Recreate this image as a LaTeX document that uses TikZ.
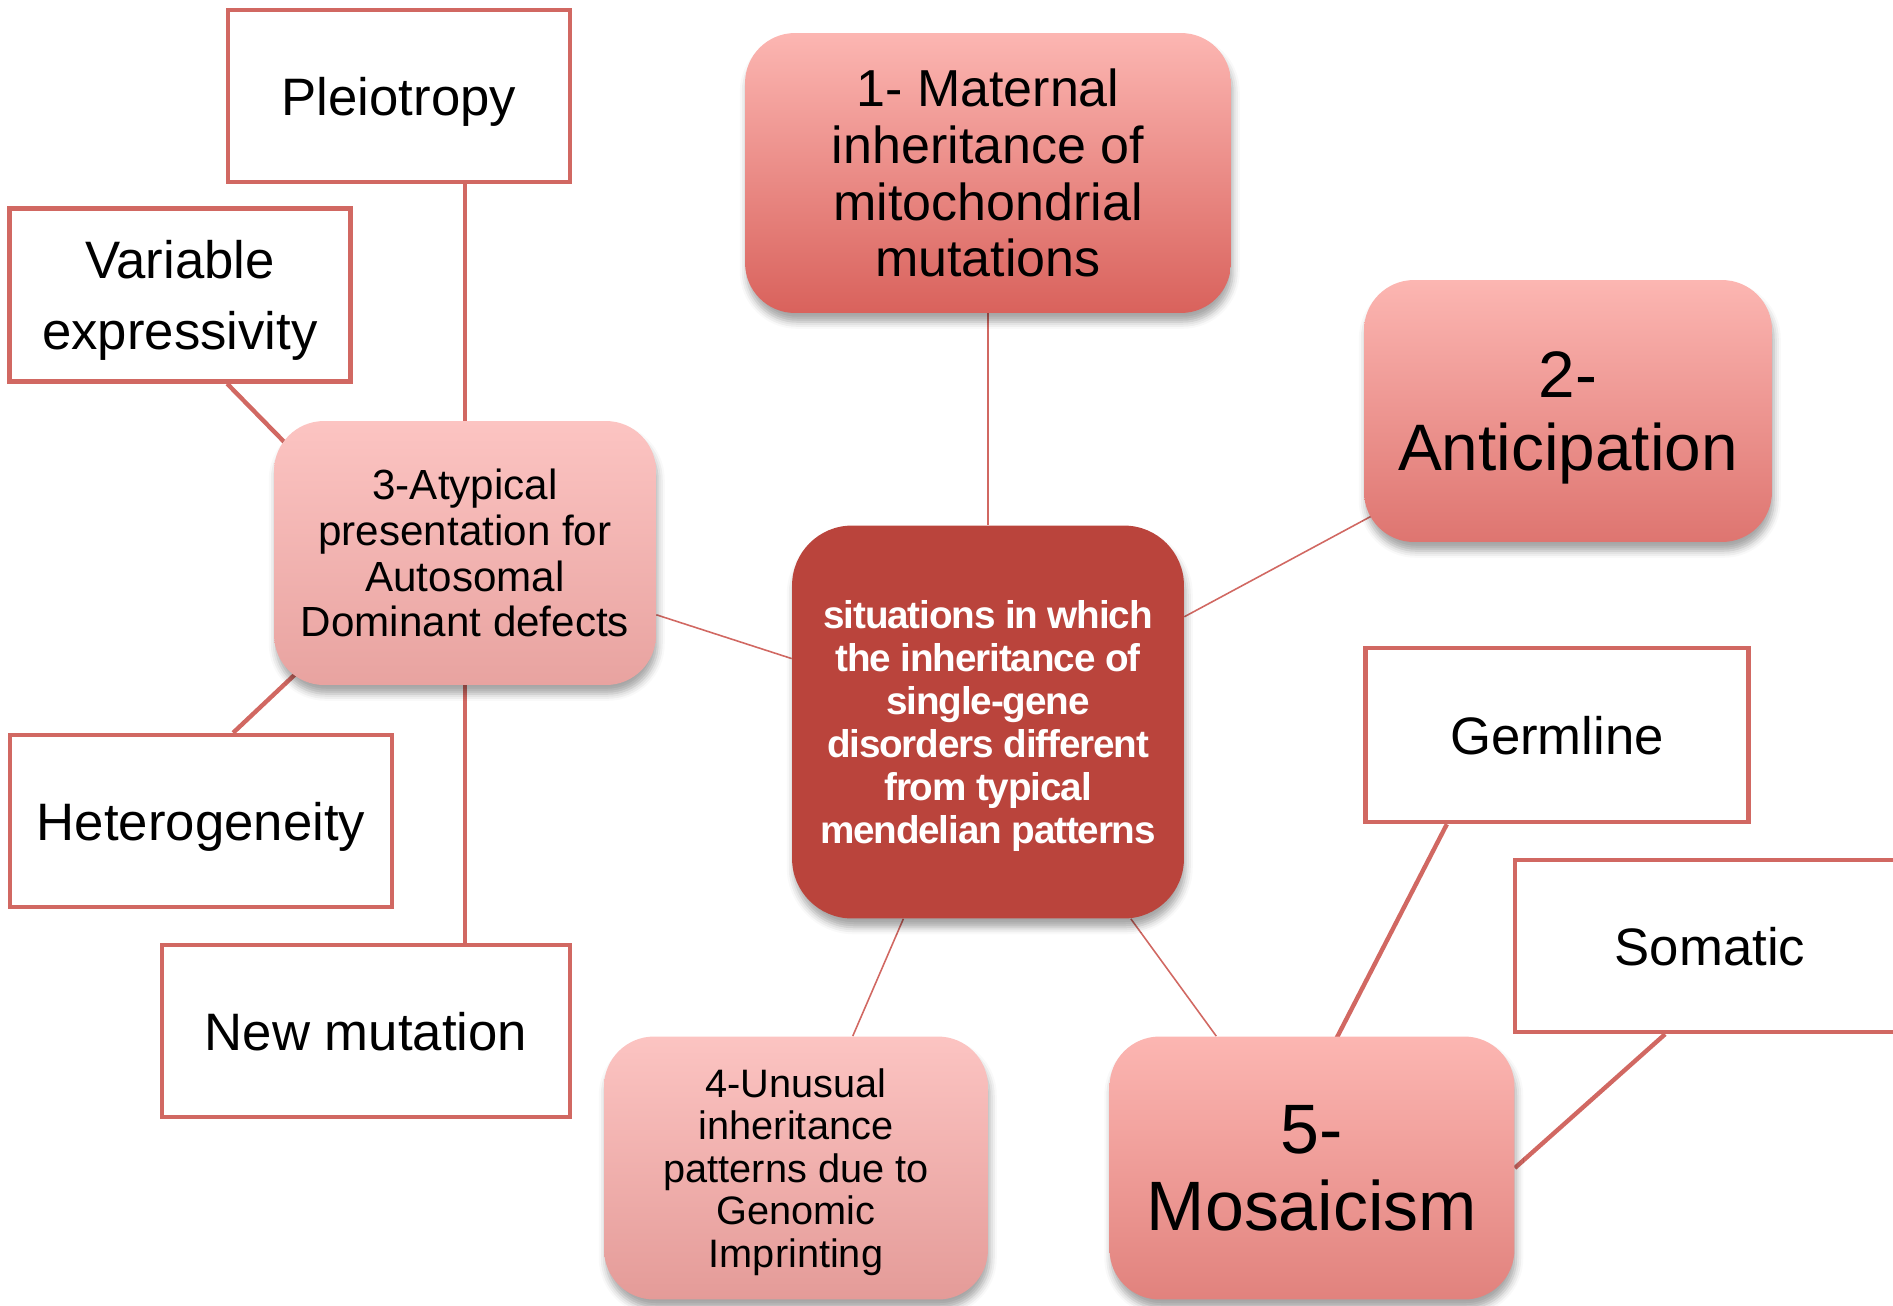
\documentclass[tikz,border=0pt]{standalone}
\usepackage{fontspec}
\setmainfont{Liberation Sans}
\usepackage{xcolor}
\usetikzlibrary{calc, backgrounds, shadows.blur}

\definecolor{edgered}{RGB}{209,104,98}
\definecolor{hubred}{RGB}{186,68,60}
\definecolor{roseA}{RGB}{252,182,178}
\definecolor{roseB}{RGB}{217,98,92}
\definecolor{roseC}{RGB}{222,117,112}
\definecolor{roseD}{RGB}{252,196,194}
\definecolor{roseE}{RGB}{232,163,160}
\definecolor{roseF}{RGB}{228,155,152}
\definecolor{roseG}{RGB}{225,130,125}

\begin{document}
\begin{tikzpicture}[x=0.02cm, y=-0.02cm,
leaf/.style={draw=edgered, line width=2.5pt, fill=white, inner sep=0pt, text depth=0pt, minimum height=3.44cm, align=center, font=\fontsize{30}{40}\selectfont},
topic/.style={rounded corners=1cm, inner sep=0pt, text depth=0pt, align=center, blur shadow={shadow xshift=1pt, shadow yshift=-5pt, shadow opacity=35, shadow blur radius=4pt}},
thinlink/.style={draw=edgered, line width=0.9pt},
thicklink/.style={draw=edgered, line width=2.5pt},
]
\useasboundingbox (0,0) rectangle (1893,1305);
\clip (0,0) rectangle (1893,1305);

\node[topic, fill=hubred, text=white, rounded corners=1.2cm, minimum width=7.84cm, minimum height=7.86cm, font=\bfseries\fontsize{22}{24.5}\selectfont\addfontfeatures{LetterSpace=-3}] (hub) at (988,722) {situations in which\\the inheritance of\\single-gene\\disorders different\\from typical\\mendelian patterns};

\node[topic, top color=roseA, bottom color=roseB, minimum width=9.72cm, minimum height=5.6cm, font=\fontsize{29.6}{32.3}\selectfont] (maternal) at (988,173) {1- Maternal\\inheritance of\\mitochondrial\\mutations};
\node[topic, top color=roseA, bottom color=roseC, minimum width=8.16cm, minimum height=5.24cm, font=\fontsize{37.4}{41.5}\selectfont] (antic) at (1568,411) {2-\\Anticipation};
\node[topic, top color=roseD, bottom color=roseE, minimum width=7.64cm, minimum height=5.28cm, font=\fontsize{24}{26}\selectfont] (atyp) at (465,553) {3-Atypical\\presentation for\\Autosomal\\Dominant defects};
\node[topic, top color=roseD, bottom color=roseF, minimum width=7.68cm, minimum height=5.26cm, font=\fontsize{22.6}{24.2}\selectfont] (unusual) at (796,1168) {4-Unusual\\inheritance\\patterns due to\\Genomic\\Imprinting};
\node[topic, top color=roseA, bottom color=roseG, minimum width=8.1cm, minimum height=5.26cm, font=\fontsize{39.8}{43.8}\selectfont] (mosaic) at (1312,1168) {5-\\Mosaicism};

\node[leaf, minimum width=6.84cm] (pleio) at (399,96) {Pleiotropy};
\node[leaf, minimum width=6.82cm, minimum height=3.46cm] (varexp) at (180,295) {Variable\\expressivity};
\node[leaf, minimum width=7.64cm] (hetero) at (201,821) {Heterogeneity};
\node[leaf, minimum width=8.16cm] (newmut) at (366,1031) {New mutation};
\node[leaf, minimum width=7.66cm, minimum height=3.48cm] (germ) at (1557,735) {Germline};
\node[leaf, minimum width=7.8cm] (somatic) at (1710,946) {Somatic};

\begin{scope}[on background layer]
\draw[thinlink] (maternal) -- (hub);
\draw[thinlink, shorten >=-0.2cm] (hub) -- (antic);
\draw[thinlink] (hub) -- (atyp);
\draw[thinlink] (hub) -- (unusual);
\draw[thinlink] (hub) -- (mosaic);
\draw[thicklink] (atyp.north |- pleio.south) -- (atyp.north);
\draw[thicklink] (varexp.-62) -- ($(atyp.north west)+(24,35)$);
\draw[thicklink] (hetero.70) -- ($(atyp.south west)+(31,-20)$);
\draw[thicklink] (atyp.south) -- (atyp.south |- newmut.north);
\draw[thicklink] (germ.219) -- ($(mosaic.north)+(23,5)$);
\draw[thicklink] (somatic.243) -- (mosaic.east);
\end{scope}
\end{tikzpicture}
\end{document}
